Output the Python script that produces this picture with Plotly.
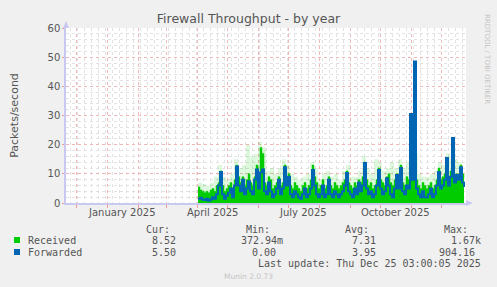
import pandas as pd
import plotly.graph_objects as go

# ---------------- data ----------------
start_date = "2025-04-02"          # first day with data, 2-day consolidation
received = [5.5, 4.5, 4, 3.5, 4, 3.5, 4.5, 5, 4, 6,
            7, 11, 6, 4, 5, 6, 7, 5, 8, 13,
            9, 7, 9, 6, 8, 10, 7, 6, 9, 13,
            8, 19, 17, 7, 6, 9, 8, 5, 6, 7,
            9, 6, 7, 13, 8, 10, 6, 5, 7, 6,
            5, 4, 6, 7, 5, 6, 8, 13, 9, 7,
            5, 6, 8, 5, 6, 9, 6, 5, 7, 6,
            5, 6, 7, 8, 11, 7, 6, 5, 7, 6,
            8, 7, 9, 14, 8, 6, 7, 5, 6, 8,
            12, 8, 7, 6, 9, 10, 7, 6, 8, 10,
            8, 13, 7, 6, 9, 8, 12, 10, 14, 8,
            6, 5, 7, 6, 5, 6, 7, 5, 6, 8,
            12, 8, 9, 10, 14, 9, 11, 13, 9, 10,
            9, 13, 10, 8.5]
forwarded = [1.5, 1.8, 1.2, 1.0, 1.5, 0.8, 1.2, 2.0, 1.5, 3.0,
             6, 10.6, 3, 1.5, 2.5, 3.5, 5, 2, 6, 12.5,
             6, 4, 8, 3, 5, 7.5, 4, 3, 8, 11.5,
             5, 10.5, 11.5, 4, 3, 7, 4, 2, 3, 5,
             8, 3, 5, 12.3, 6, 9, 3, 2, 4, 3,
             2, 1.5, 3, 5, 2, 3, 5, 11.3, 6, 3,
             2, 3, 6, 2, 3, 8, 3, 2, 4, 3,
             2, 3, 4, 6, 10.3, 4, 3, 2, 5, 3,
             7, 4, 6, 13.7, 5, 3, 4, 2, 3, 6,
             11.3, 5, 3, 4, 8.5, 6, 3, 2, 5, 9.6,
             5, 12, 4, 3, 6, 5, 30.5, 8, 48.5, 5,
             3, 2, 4, 2, 2, 3, 5, 2, 3, 6,
             10.6, 5, 6, 8, 15.4, 6, 9, 22.3, 7, 9.6,
             8, 12.3, 7, 5.5]
# received peaks (light green), 4-day consolidation
received_peak = [7, 6.5, 6, 7, 9, 13, 9, 8, 10, 15,
                 12, 13, 20, 16, 17, 21, 19, 11, 12, 10,
                 12, 15, 13, 10, 9, 8, 9, 10, 14, 12,
                 8, 10, 11, 9, 10, 8, 11, 13, 9, 9,
                 11, 16, 12, 10, 15, 14, 11, 12, 14, 12,
                 15, 12, 14, 16, 17, 10, 9, 9, 10, 11,
                 14, 13, 17, 15, 15, 14, 13]

x_range = ["2024-11-21", "2025-12-26"]
tick_dates = ["2025-01-16", "2025-04-16", "2025-07-16", "2025-10-16"]
tick_labels = ["January 2025", "April 2025", "July 2025", "October 2025"]

legend_names = ["Received", "Forwarded"]
legend_colors = ["#00cc00", "#0066b3"]
stat_headers = ["Cur:", "Min:", "Avg:", "Max:"]
stats = [["8.52", "372.94m", "7.31", "1.67k"],
         ["5.50", "0.00", "3.95", "904.16"]]

dates2 = pd.date_range(start_date, periods=len(received), freq="2D")
dates4 = pd.date_range(start_date, periods=len(received_peak), freq="4D")

# ---------------- layout helpers (pixel -> paper) ----------------
W, H = 497, 287
L, R, T, B = 66, 466, 28, 203


def px(x):
    return (x - L) / (R - L)


def py(y):
    return (B - y) / (B - T)


fig = go.Figure()
fig.add_trace(go.Scatter(x=dates4, y=received_peak, mode="lines", line_shape="hv",
                         line=dict(width=0, color="rgba(0,204,0,0)"),
                         fill="tozeroy", fillcolor="rgba(0,204,0,0.13)",
                         hoverinfo="skip", showlegend=False))
fig.add_trace(go.Scatter(x=dates2, y=received, mode="lines", line_shape="hv",
                         line=dict(width=0.5, color="#00cc00"),
                         fill="tozeroy", fillcolor="#00cc00",
                         name="Received", showlegend=False))
fig.add_trace(go.Scatter(x=dates2, y=forwarded, mode="lines", line_shape="hv",
                         line=dict(width=2, color="#0066b3"),
                         name="Forwarded", showlegend=False))

grid_major = "#f2b8b8"
grid_minor = "#e2e2e2"
axis_col = "#c8c8f0"
txt = "#555555"

fig.update_xaxes(type="date", range=x_range,
                 showticklabels=False,
                 tick0="2024-12-01", dtick="M1",
                 showgrid=True, gridcolor=grid_major, griddash="dot", gridwidth=1,
                 ticks="outside", ticklen=3, tickcolor="#ec9a9a",
                 minor=dict(tick0="2024-11-25", dtick=7 * 86400000, showgrid=True,
                            gridcolor=grid_minor, griddash="dot", gridwidth=1),
                 showline=True, linecolor=axis_col, linewidth=1.5,
                 zeroline=False, fixedrange=True)
fig.update_yaxes(range=[0, 60], dtick=10, tick0=0,
                 showgrid=True, gridcolor=grid_major, griddash="dot", gridwidth=1,
                 ticks="outside", ticklen=2, tickcolor="#ec9a9a",
                 minor=dict(dtick=2, showgrid=True, gridcolor=grid_minor,
                            griddash="dot", gridwidth=1),
                 showline=True, linecolor=axis_col, linewidth=1.5,
                 tickfont=dict(family="DejaVu Sans", size=10, color=txt),
                 zeroline=False, fixedrange=True,
                 title=dict(text="Packets/second", standoff=27,
                            font=dict(family="DejaVu Sans", size=11, color=txt)))

ann = []
# x tick labels
for d, lab in zip(tick_dates, tick_labels):
    ann.append(dict(x=d, xref="x", y=py(212), yref="paper", text=lab, showarrow=False,
                    xanchor="center", yanchor="middle",
                    font=dict(family="DejaVu Sans", size=10, color=txt)))
# right vertical credit
ann.append(dict(x=px(487), y=py(59), xref="paper", yref="paper",
                text="RRDTOOL / TOBI OETIKER", textangle=90, showarrow=False,
                xanchor="center", yanchor="middle",
                font=dict(family="DejaVu Sans", size=7, color="#c4c4c4")))
# legend headers
mono = "DejaVu Sans Mono"
head_right = [172, 272, 371, 470]
for h, xr in zip(stat_headers, head_right):
    ann.append(dict(x=px(xr), y=py(229), xref="paper", yref="paper", text=h,
                    showarrow=False, xanchor="right", yanchor="middle",
                    font=dict(family=mono, size=10, color=txt)))
row_y = [240, 252]
val_right = [[178, 285, 378, 483], [178, 278, 378, 477]]
shapes = []
for r in range(2):
    shapes.append(dict(type="rect", xref="paper", yref="paper",
                       x0=px(14), x1=px(20), y0=py(row_y[r] - 3), y1=py(row_y[r] + 3),
                       fillcolor=legend_colors[r], line=dict(width=0)))
    ann.append(dict(x=px(26), y=py(row_y[r]), xref="paper", yref="paper",
                    text=legend_names[r], showarrow=False, xanchor="left",
                    yanchor="middle", font=dict(family=mono, size=10, color=txt)))
    for v, xr in zip(stats[r], val_right[r]):
        ann.append(dict(x=px(xr), y=py(row_y[r]), xref="paper", yref="paper",
                        text=v, showarrow=False, xanchor="right", yanchor="middle",
                        font=dict(family=mono, size=10, color=txt)))
ann.append(dict(x=px(483), y=py(263), xref="paper", yref="paper",
                text="Last update: Thu Dec 25 03:00:05 2025", showarrow=False,
                xanchor="right", yanchor="middle",
                font=dict(family=mono, size=10, color=txt)))
ann.append(dict(x=px(248), y=py(276), xref="paper", yref="paper",
                text="Munin 2.0.73", showarrow=False,
                xanchor="center", yanchor="middle",
                font=dict(family="DejaVu Sans", size=7.5, color="#c4c4c4")))

# axis arrows
shapes.append(dict(type="path", xref="paper", yref="paper",
                   path=f"M {px(63)} {py(28)} L {px(69)} {py(28)} L {px(66)} {py(21)} Z",
                   fillcolor=axis_col, line=dict(width=0)))
shapes.append(dict(type="path", xref="paper", yref="paper",
                   path=f"M {px(466)} {py(200)} L {px(466)} {py(206)} L {px(473)} {py(203)} Z",
                   fillcolor=axis_col, line=dict(width=0)))

fig.update_layout(
    width=W, height=H,
    margin=dict(l=L, r=W - R, t=T, b=H - B),
    paper_bgcolor="#f0f0f0", plot_bgcolor="#ffffff",
    title=dict(text="Firewall Throughput - by year", x=0.5, xanchor="center",
               y=1 - 19 / H, yanchor="middle",
               font=dict(family="DejaVu Sans", size=12.5, color=txt)),
    annotations=ann, shapes=shapes, showlegend=False,
)

fig.write_html("out.html")
